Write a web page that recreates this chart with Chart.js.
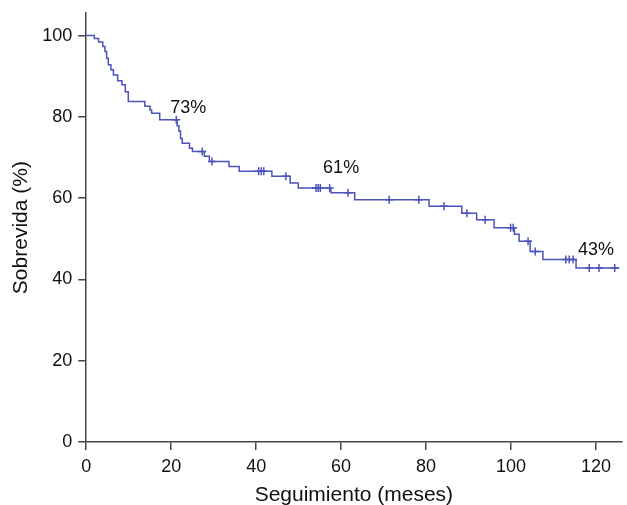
<!DOCTYPE html>
<html>
<head>
<meta charset="utf-8">
<script src="https://cdn.jsdelivr.net/npm/chart.js@4"></script>
<style>
  html, body { margin: 0; padding: 0; background: #fff; }
  #wrap { width: 627px; height: 505px; }
</style>
</head>
<body>
<div id="wrap"><canvas id="chart" width="627" height="505"></canvas></div>
<script>
// Kaplan-Meier steps: survival drops to survival[i] at times[i] (months)
const times = [0, 1.9, 2.9, 3.9, 4.4, 4.8, 5.2, 5.8, 6.4, 7.4, 8.4, 9.2, 9.9, 13.8, 15.0, 15.4, 17.3,
  21.4, 21.8, 22.2, 22.6, 24.3, 25.0, 27.8, 29.0, 33.6, 36.0, 43.7, 48.0, 49.9, 57.6, 63.2,
  80.7, 88.4, 91.9, 96.0, 100.8, 101.9, 104.5, 107.5, 115.3, 125.5];
const survival = [100, 99.3, 98.4, 97.3, 96.1, 94.4, 92.8, 91.6, 90.3, 88.9, 87.9, 86.2, 83.8, 82.6, 81.7, 80.9, 79.3,
  77.8, 76.5, 74.7, 73.5, 72.3, 71.5, 70.3, 69.0, 67.8, 66.6, 65.4, 63.7, 62.5, 61.3, 59.6,
  58.0, 56.3, 54.7, 52.7, 51.1, 49.4, 46.9, 44.9, 42.8, 42.8];
// censored patients (tick marks)
const censored = [21.2, 27.3, 29.6, 40.6, 41.2, 41.8, 47.0, 54.1, 54.6, 55.1, 57.3, 61.6, 71.3, 78.3,
  84.2, 89.6, 93.9, 99.9, 100.5, 104.0, 105.7, 112.9, 113.7, 114.6, 118.4, 120.7, 124.4];
// annotated survival rates
const markTimes = [24, 60, 120];
const markText = ['73%', '61%', '43%'];
const xTicks = [0, 20, 40, 60, 80, 100, 120];
const yTicks = [0, 20, 40, 60, 80, 100];

const labelLift = [35, 25, 18];
const lineColor = '#4b53b9';
const axisColor = '#444';
const fontName = '"Liberation Sans", Arial, sans-serif';

function survivalAt(t) {
  let v = survival[0];
  for (let i = 0; i < times.length; i++) {
    if (times[i] <= t) v = survival[i];
  }
  return v;
}

const curve = times.map(function(t, i) { return {x: t, y: survival[i]}; });
const marks = censored.map(function(t) { return {x: t, y: survivalAt(t)}; });

const labelPlugin = {
  id: 'kmLabels',
  afterDatasetsDraw: function(chart) {
    const ctx = chart.ctx;
    const xs = chart.scales.x;
    const ys = chart.scales.y;
    ctx.save();
    ctx.font = '18px ' + fontName;
    ctx.fillStyle = '#111';
    ctx.textAlign = 'center';
    ctx.textBaseline = 'middle';
    for (let i = 0; i < markTimes.length; i++) {
      const px = xs.getPixelForValue(markTimes[i]);
      const py = ys.getPixelForValue(survivalAt(markTimes[i])) - labelLift[i];
      ctx.fillText(markText[i], px, py);
    }
    ctx.restore();
  },
};

function keepTicks(list) {
  return function(axis) {
    axis.ticks = list.map(function(v) { return {value: v}; });
  };
}

const ctx = document.getElementById('chart').getContext('2d');
new Chart(ctx, {
  type: 'scatter',
  data: {
    datasets: [
      {
        label: 'Sobrevida',
        data: curve,
        showLine: true,
        stepped: true,
        borderColor: lineColor,
        borderWidth: 1.5,
        pointRadius: 0,
      },
      {
        label: 'Censurados',
        data: marks,
        showLine: false,
        pointStyle: 'cross',
        pointRadius: 4,
        borderColor: lineColor,
        borderWidth: 1.5,
      },
    ],
  },
  options: {
    responsive: false,
    animation: false,
    layout: {padding: {left: 5, right: 1, top: 10, bottom: 0}},
    plugins: {legend: {display: false}, tooltip: {enabled: false}},
    scales: {
      x: {
        type: 'linear',
        min: 0,
        max: 126,
        afterBuildTicks: keepTicks(xTicks),
        ticks: {color: '#111', font: {family: fontName, size: 18, lineHeight: 1.0}, padding: 8, maxRotation: 0},
        grid: {drawOnChartArea: false, drawTicks: true, tickLength: 8, color: axisColor, lineWidth: 1.5},
        border: {display: true, color: axisColor, width: 1.5},
        title: {display: true, text: 'Seguimiento (meses)', color: '#111',
          font: {family: fontName, size: 21, lineHeight: 0.95}, padding: {top: 1, bottom: 0}},
      },
      y: {
        type: 'linear',
        min: 0,
        max: 105.5,
        afterBuildTicks: keepTicks(yTicks),
        ticks: {color: '#111', font: {family: fontName, size: 18, lineHeight: 0.8}, padding: 6},
        grid: {drawOnChartArea: false, drawTicks: true, tickLength: 8, color: axisColor, lineWidth: 1.5},
        border: {display: true, color: axisColor, width: 1.5},
        title: {display: true, text: 'Sobrevida (%)', color: '#111',
          font: {family: fontName, size: 21}, padding: {top: 4, bottom: 2}},
      },
    },
  },
  plugins: [labelPlugin],
});
</script>
</body>
</html>
